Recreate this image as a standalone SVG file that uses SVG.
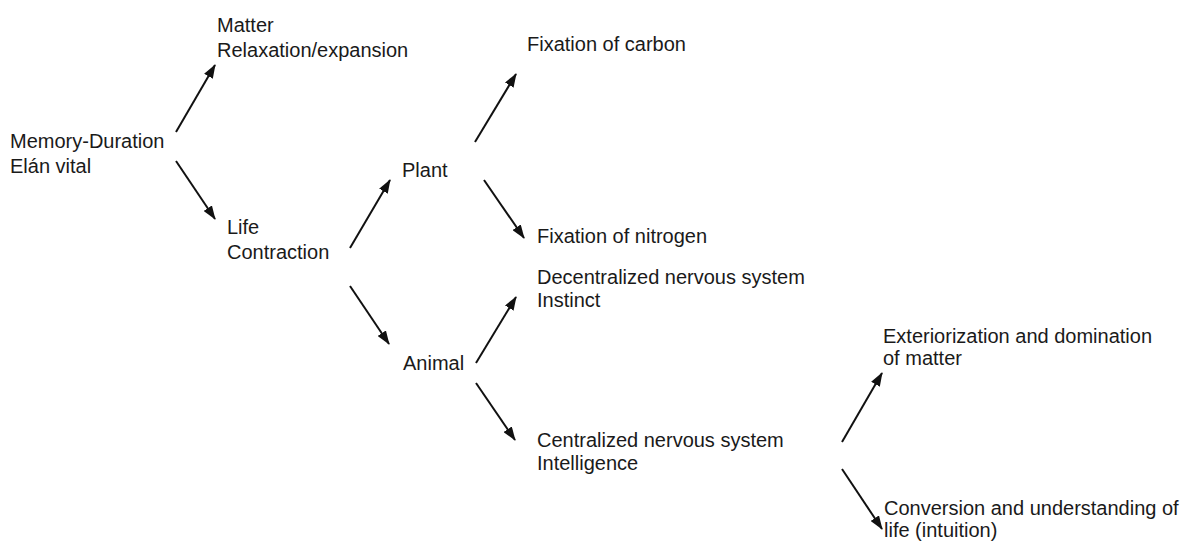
<svg xmlns="http://www.w3.org/2000/svg" width="1193" height="543" viewBox="0 0 1193 543">
<style>
text{font-family:"Liberation Sans",Arial,sans-serif;font-size:20px;fill:#1a1a1a}
.c line{stroke:#111;stroke-width:2;marker-end:url(#ah)}
</style>
<defs>
<marker id="ah" markerUnits="userSpaceOnUse" markerWidth="14" markerHeight="10" refX="13" refY="5" orient="auto" viewBox="0 0 14 10">
<path d="M0,0 L14,5 L0,10 z" fill="#111"/>
</marker>
</defs>
<rect width="1193" height="543" fill="#fff"/>
<g id="n-memory"><text x="10" y="148">Memory-Duration</text><text x="10" y="173">Elán vital</text></g>
<g id="n-matter"><text x="217" y="32">Matter</text><text x="217" y="57">Relaxation/expansion</text></g>
<g id="n-life"><text x="227" y="234">Life</text><text x="227" y="259">Contraction</text></g>
<g id="n-plant"><text x="402" y="177">Plant</text></g>
<g id="n-animal"><text x="403" y="370">Animal</text></g>
<g id="n-carbon"><text x="527" y="51">Fixation of carbon</text></g>
<g id="n-nitrogen"><text x="537" y="243">Fixation of nitrogen</text></g>
<g id="n-decentral"><text x="537" y="284">Decentralized nervous system</text><text x="537" y="307">Instinct</text></g>
<g id="n-central"><text x="537" y="447">Centralized nervous system</text><text x="537" y="470">Intelligence</text></g>
<g id="n-exterior"><text x="883" y="343">Exteriorization and domination</text><text x="883" y="365">of matter</text></g>
<g id="n-conversion"><text x="884" y="515">Conversion and understanding of</text><text x="884" y="537">life (intuition)</text></g>
<g id="connectors" class="c">
<line x1="176" y1="132" x2="215" y2="65"/>
<line x1="176" y1="161" x2="215" y2="219"/>
<line x1="350" y1="248" x2="390" y2="180"/>
<line x1="350" y1="286" x2="389" y2="344"/>
<line x1="475" y1="142" x2="516" y2="74"/>
<line x1="484" y1="180" x2="524" y2="238"/>
<line x1="476" y1="363" x2="516" y2="297"/>
<line x1="476" y1="383" x2="515" y2="440"/>
<line x1="842" y1="442" x2="882" y2="373"/>
<line x1="842" y1="469" x2="882" y2="529"/>
</g>
</svg>
